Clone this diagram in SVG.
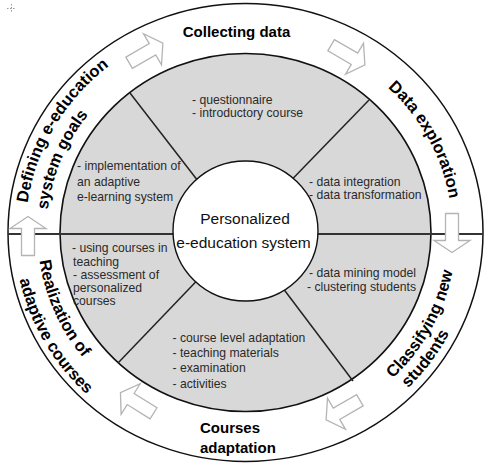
<svg xmlns="http://www.w3.org/2000/svg" xmlns:xlink="http://www.w3.org/1999/xlink" width="494" height="464" viewBox="0 0 494 464">
<style>
.ring{fill:#fff;stroke:#111;stroke-width:1.5}
.gray{fill:#d8d8d8;stroke:#111;stroke-width:1.6}
.div{stroke:#222;stroke-width:1.5;fill:none}
.hline{stroke:#333;stroke-width:1.8;fill:none}
.arrow{fill:#fff;stroke:#b4b4b4;stroke-width:1.3;stroke-linejoin:miter}
.st{font-family:"Liberation Sans",Arial,sans-serif;font-size:12.2px;fill:#2a2a2a}
.ctr{font-family:"Liberation Sans",Arial,sans-serif;font-size:15.5px;fill:#111}
.lab{font-family:"Liberation Sans",Arial,sans-serif;font-size:15px;font-weight:bold;fill:#000}
.clab{font-family:"Liberation Sans",Arial,sans-serif;font-size:16.5px;font-weight:bold;fill:#000}
</style>
<defs>
<polygon id="arr" class="arrow" points="-19.5,-6.5 7.5,-6.5 7.5,-18 19.5,0 7.5,18 7.5,6.5 -19.5,6.5"/>
<path id="p-def1" d="M33.5,289.2 A220,212.3 0 0 1 186.7,27.9"/>
<path id="p-def2" d="M62.3,307.5 A199,192 0 0 1 167.7,55.7"/>
<path id="p-data" d="M306.7,41.7 A207,199.8 0 0 1 443.2,291.6"/>
<path id="p-cls1" d="M307.2,427.2 A211,203.6 0 0 0 447.3,173"/>
<path id="p-cls2" d="M283.3,450.4 A229,221 0 0 0 471.4,196"/>
<path id="p-real1" d="M52.6,157.3 A208,200.7 0 0 0 167.6,418.6"/>
<path id="p-real2" d="M23.4,171.1 A231,222.9 0 0 0 181.8,446.8"/>
</defs>

<g id="mark" stroke="#999" stroke-width="1" stroke-dasharray="1.5,1.5">
<line x1="11.5" y1="4" x2="11.5" y2="13"/>
<line x1="7" y1="8.5" x2="16" y2="8.5"/>
</g>

<g id="outer-ring">
<ellipse class="ring" cx="245.5" cy="232.5" rx="237.5" ry="229"/>
</g>

<g id="sectors">
<ellipse class="gray" cx="245.5" cy="232.5" rx="185.5" ry="179"/>
</g>

<g id="connectors">
<line class="hline" x1="8" y1="234" x2="483" y2="234"/>
<line class="div" x1="130" y1="93" x2="215" y2="203"/>
<line class="div" x1="369" y1="100" x2="275" y2="197"/>
<line class="div" x1="353" y1="381" x2="270" y2="271"/>
<line class="div" x1="118" y1="363" x2="210" y2="267"/>
<use href="#arr" transform="translate(146,53) rotate(-30)"/>
<use href="#arr" transform="translate(348,55) rotate(30)"/>
<use href="#arr" transform="translate(452,233) rotate(90)"/>
<use href="#arr" transform="translate(343,410) rotate(150)"/>
<use href="#arr" transform="translate(137,403) rotate(-148)"/>
<use href="#arr" transform="translate(28,236) rotate(-90)"/>
</g>

<g id="center">
<ellipse cx="245.5" cy="231" rx="72.5" ry="70" fill="#fff" stroke="#111" stroke-width="1.4"/>
<text class="ctr" x="245" y="224" text-anchor="middle">Personalized</text>
<text class="ctr" x="243.5" y="248" text-anchor="middle">e-education system</text>
</g>

<g id="sector-top">
<text class="st" x="192" y="104">- questionnaire</text>
<text class="st" x="192" y="116.5">- introductory course</text>
</g>
<g id="sector-upper-right">
<text class="st" x="309" y="186">- data integration</text>
<text class="st" x="309" y="198.5">- data transformation</text>
</g>
<g id="sector-lower-right">
<text class="st" x="309" y="277">- data mining model</text>
<text class="st" x="307" y="291">- clustering students</text>
</g>
<g id="sector-bottom">
<text class="st" x="172.5" y="342">- course level adaptation</text>
<text class="st" x="172.5" y="357">- teaching materials</text>
<text class="st" x="172.5" y="372">- examination</text>
<text class="st" x="172.5" y="387.5">- activities</text>
</g>
<g id="sector-lower-left">
<text class="st" x="72" y="252">- using courses in</text>
<text class="st" x="73" y="265.5">teaching</text>
<text class="st" x="73" y="279">- assessment of</text>
<text class="st" x="73" y="292">personalized</text>
<text class="st" x="73" y="304.5">courses</text>
</g>
<g id="sector-upper-left">
<text class="st" x="77" y="169.5">- implementation of</text>
<text class="st" x="77" y="185.5">an adaptive</text>
<text class="st" x="77" y="200.5">e-learning system</text>
</g>

<g id="stage-collecting">
<text class="lab" x="236.5" y="37" text-anchor="middle">Collecting data</text>
</g>
<g id="stage-exploration">
<text class="clab"><textPath href="#p-data" startOffset="50%" text-anchor="middle">Data exploration</textPath></text>
</g>
<g id="stage-classifying">
<text class="clab"><textPath href="#p-cls1" startOffset="50%" text-anchor="middle">Classifying new</textPath></text>
<text class="clab"><textPath href="#p-cls2" startOffset="50%" text-anchor="middle">students</textPath></text>
</g>
<g id="stage-adaptation">
<text class="lab" x="200" y="433">Courses</text>
<text class="lab" x="200" y="453">adaptation</text>
</g>
<g id="stage-realization">
<text class="clab"><textPath href="#p-real1" startOffset="50%" text-anchor="middle">Realization of</textPath></text>
<text class="clab"><textPath href="#p-real2" startOffset="50%" text-anchor="middle">adaptive courses</textPath></text>
</g>
<g id="stage-defining">
<text class="clab"><textPath href="#p-def1" startOffset="50%" text-anchor="middle">Defining e-education</textPath></text>
<text class="clab"><textPath href="#p-def2" startOffset="50%" text-anchor="middle">system goals</textPath></text>
</g>
</svg>
